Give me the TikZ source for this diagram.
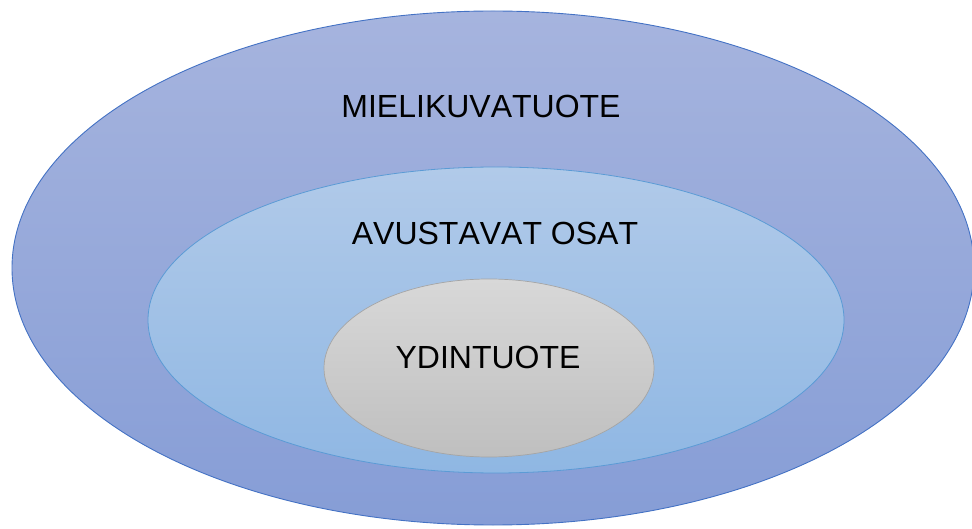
\documentclass[tikz,border=0pt]{standalone}
\usepackage{fontspec}
\setmainfont[Kerning=Off]{Liberation Sans}
\begin{document}
\begin{tikzpicture}[x=1pt,y=-1pt,
    outerring/.style={draw=outerline, line width=0.9pt, top color=outertop, bottom color=outerbot},
    middlering/.style={draw=midline, line width=0.8pt, top color=midtop, bottom color=midbot},
    corering/.style={draw=coreline, line width=0.7pt, top color=coretop, bottom color=corebot},
    label/.style={font=\fontsize{32}{38}\selectfont, text=black}]
            \definecolor{outerline}{HTML}{4472C4}
            \definecolor{outertop}{HTML}{A6B4DE}
            \definecolor{outerbot}{HTML}{869DD6}
            \definecolor{midtop}{HTML}{B1CAE9}
            \definecolor{midbot}{HTML}{8FB7E3}
            \definecolor{midline}{HTML}{5B9BD5}
            \definecolor{coretop}{HTML}{D8D8D8}
            \definecolor{corebot}{HTML}{BFBFBF}
            \definecolor{coreline}{HTML}{A5A5A5}
            \useasboundingbox (0,0) rectangle (972,529);

            % Ellipses
            \path[outerring] (493,268) ellipse [x radius=481, y radius=257];
            \path[middlering] (496,320) ellipse [x radius=348, y radius=153];
            \path[corering] (489,368) ellipse [x radius=165, y radius=89];

            % Labels
            \node[label] (mieli) at (481,106) {MIELIKUVATUOTE};
            \node[label] (avust) at (495,233) {AVUSTAVAT OSAT};
            \node[label] (ydin) at (488,357) {YDINTUOTE};
        \end{tikzpicture}
\end{document}
